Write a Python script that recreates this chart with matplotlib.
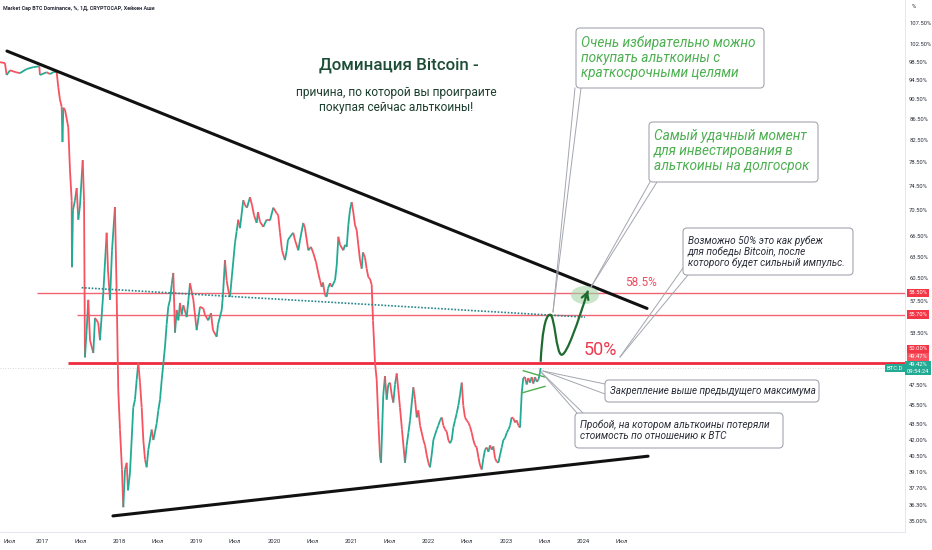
import matplotlib
matplotlib.use('Agg')
import matplotlib.pyplot as plt
import numpy as np
from matplotlib.transforms import Affine2D, blended_transform_factory
from matplotlib.patches import FancyBboxPatch, Ellipse, PathPatch
from matplotlib.lines import Line2D
from matplotlib.path import Path
from matplotlib.collections import LineCollection
from matplotlib.ticker import FixedLocator, NullLocator, FuncFormatter

plt.rcParams['font.family'] = ['Roboto', 'DejaVu Sans']

# BTC dominance (decimal year, %)
dates = [
    2016.457, 2016.521, 2016.543, 2016.586, 2016.664, 2016.715, 2016.802, 2016.887, 2016.965, 2016.974,
    2017.061, 2017.103, 2017.146, 2017.190, 2017.211, 2017.233, 2017.255, 2017.265, 2017.276, 2017.298,
    2017.340, 2017.362, 2017.384, 2017.388, 2017.401, 2017.427, 2017.449, 2017.470, 2017.492, 2017.527,
    2017.544, 2017.556, 2017.578, 2017.599, 2017.621, 2017.664, 2017.686, 2017.728, 2017.750, 2017.793,
    2017.837, 2017.854, 2017.880, 2017.906, 2017.944, 2017.966, 2017.987, 2018.009, 2018.035, 2018.052,
    2018.074, 2018.096, 2018.113, 2018.138, 2018.160, 2018.181, 2018.203, 2018.225, 2018.246, 2018.268,
    2018.290, 2018.311, 2018.333, 2018.354, 2018.376, 2018.397, 2018.419, 2018.441, 2018.484, 2018.505,
    2018.527, 2018.549, 2018.569, 2018.591, 2018.613, 2018.634, 2018.656, 2018.678, 2018.699, 2018.721,
    2018.743, 2018.764, 2018.785, 2018.807, 2018.829, 2018.872, 2018.894, 2018.915, 2018.958, 2019.001,
    2019.044, 2019.087, 2019.108, 2019.151, 2019.186, 2019.212, 2019.260, 2019.277, 2019.325, 2019.341,
    2019.367, 2019.389, 2019.410, 2019.432, 2019.458, 2019.497, 2019.518, 2019.539, 2019.561, 2019.604,
    2019.626, 2019.652, 2019.691, 2019.717, 2019.743, 2019.777, 2019.794, 2019.820, 2019.863, 2019.906,
    2019.950, 2019.992, 2020.036, 2020.056, 2020.079, 2020.105, 2020.143, 2020.166, 2020.182, 2020.208,
    2020.251, 2020.273, 2020.316, 2020.338, 2020.380, 2020.402, 2020.445, 2020.480, 2020.510, 2020.545,
    2020.574, 2020.596, 2020.618, 2020.635, 2020.661, 2020.683, 2020.700, 2020.726, 2020.748, 2020.791,
    2020.813, 2020.834, 2020.856, 2020.898, 2020.920, 2020.942, 2020.963, 2020.984, 2021.006, 2021.027,
    2021.049, 2021.071, 2021.092, 2021.114, 2021.136, 2021.152, 2021.178, 2021.200, 2021.222, 2021.243,
    2021.265, 2021.282, 2021.308, 2021.330, 2021.351, 2021.373, 2021.386, 2021.415, 2021.437, 2021.459,
    2021.480, 2021.502, 2021.524, 2021.545, 2021.567, 2021.589, 2021.610, 2021.631, 2021.657, 2021.696,
    2021.718, 2021.740, 2021.761, 2021.804, 2021.826, 2021.848, 2021.869, 2021.891, 2021.934, 2021.955,
    2021.977, 2021.999, 2022.019, 2022.041, 2022.063, 2022.106, 2022.127, 2022.149, 2022.171, 2022.192,
    2022.214, 2022.236, 2022.257, 2022.278, 2022.300, 2022.321, 2022.343, 2022.365, 2022.386, 2022.408,
    2022.430, 2022.450, 2022.472, 2022.494, 2022.515, 2022.537, 2022.559, 2022.580, 2022.602, 2022.624,
    2022.645, 2022.666, 2022.688, 2022.710, 2022.731, 2022.753, 2022.775, 2022.796, 2022.818, 2022.839,
    2022.861, 2022.883, 2022.904, 2022.925, 2022.947, 2022.968, 2022.990, 2023.012, 2023.034, 2023.055,
    2023.076, 2023.098, 2023.119, 2023.141, 2023.163, 2023.184, 2023.206, 2023.226, 2023.248, 2023.270,
    2023.291, 2023.313, 2023.335, 2023.356, 2023.378, 2023.400, 2023.421, 2023.442, 2023.451,
]
dominance = [
    98.4, 98.2, 95.6, 96.6, 96.2, 96.0, 96.9, 97.3, 97.5, 95.6,
    96.2, 95.8, 96.2, 96.3, 93.0, 90.4, 89.0, 82.2, 88.8, 88.4,
    85.0, 77.2, 72.1, 62.0, 70.5, 72.1, 74.1, 69.0, 71.3, 78.9,
    72.1, 50.6, 53.8, 57.6, 52.6, 51.1, 55.3, 54.7, 52.6, 58.5,
    67.0, 61.6, 57.6, 64.4, 71.0, 58.5, 47.0, 43.0, 39.3, 36.1,
    39.3, 39.9, 37.5, 39.0, 42.0, 45.2, 46.0, 48.1, 50.0, 47.8,
    45.2, 42.0, 40.2, 39.5, 41.1, 42.0, 43.0, 42.0, 43.6, 44.9,
    46.0, 48.1, 49.8, 51.8, 54.5, 56.7, 57.6, 59.6, 61.2, 53.5,
    56.3, 55.0, 57.2, 55.7, 56.9, 55.4, 57.6, 59.8, 57.6, 53.8,
    56.7, 56.5, 55.7, 55.0, 55.9, 53.8, 53.0, 54.5, 56.3, 58.2,
    63.0, 60.2, 58.9, 58.0, 60.9, 65.5, 67.2, 69.0, 67.7, 72.1,
    71.3, 70.9, 72.6, 71.3, 69.7, 68.5, 70.2, 68.7, 67.9, 69.0,
    68.9, 70.9, 70.0, 69.7, 67.0, 64.4, 63.0, 64.4, 65.9, 66.4,
    67.0, 65.9, 64.4, 65.9, 68.5, 67.7, 64.4, 64.9, 64.0, 62.7,
    61.2, 60.2, 59.3, 59.9, 58.2, 58.0, 59.1, 59.8, 59.3, 60.2,
    62.3, 66.4, 65.2, 64.4, 65.2, 64.9, 68.2, 70.5, 71.8, 70.2,
    68.2, 67.4, 65.2, 63.0, 61.8, 64.1, 63.4, 61.8, 60.6, 60.4,
    59.6, 55.0, 50.0, 48.1, 43.9, 40.4, 39.9, 46.5, 48.5, 46.0,
    47.6, 47.8, 46.5, 45.7, 47.6, 48.8, 47.0, 45.2, 43.0, 39.9,
    41.5, 42.7, 43.9, 47.3, 46.0, 44.2, 44.9, 43.4, 42.0, 41.5,
    40.6, 39.9, 39.5, 40.6, 42.0, 43.0, 43.4, 43.9, 44.2, 43.4,
    43.0, 42.8, 42.0, 41.7, 42.0, 43.2, 43.9, 44.6, 45.4, 46.5,
    47.8, 45.4, 44.2, 43.9, 43.7, 43.3, 42.7, 42.0, 41.5, 41.3,
    40.4, 39.7, 39.3, 40.3, 41.1, 41.3, 40.9, 41.5, 41.1, 41.4,
    40.3, 40.0, 39.9, 40.6, 41.3, 42.0, 42.2, 42.7, 43.0, 43.4,
    44.2, 44.1, 43.7, 43.9, 43.4, 43.2, 46.7, 48.3, 48.4, 47.6,
    48.3, 47.8, 48.4, 47.7, 48.4, 47.9, 48.1, 48.9, 49.4,
]
last_price = 49.42

# horizontal levels drawn on the chart
levels = [58.5, 55.7, 50.0]
level_start = [2016.93, 2017.45, 2017.34]

# trend lines (year, %)
upper_trend_x = [2016.547, 2024.827]
upper_trend_y = [100.9, 56.5]
lower_trend_x = [2017.918, 2024.840]
lower_trend_y = [35.4, 40.5]
dotted_x = [2017.514, 2024.025]
dotted_y = [59.2, 55.4]
pennant_top_x = [2023.226, 2023.507]
pennant_top_y = [49.1, 48.4]
pennant_bot_x = [2023.206, 2023.507]
pennant_bot_y = [46.7, 47.4]

# projected path (bezier anchors / controls)
proj_x = [2023.451, 2023.468, 2023.507, 2023.572, 2023.636, 2023.649, 2023.723, 2023.791, 2023.934, 2024.063]
proj_y = [50.1, 53.2, 55.7, 55.7, 55.7, 50.9, 50.9, 50.9, 54.8, 58.8]

price_ticks = [107.5, 102.5, 98.5, 94.5, 90.5, 86.5, 82.5, 78.5, 74.5, 70.5, 66.5, 63.5, 60.5,
               57.5, 53.5, 47.5, 45.5, 43.5, 42.0, 40.5, 39.1, 37.7, 36.3, 35.0]
time_ticks = [2016.5, 2017, 2017.5, 2018, 2018.5, 2019, 2019.5, 2020, 2020.5,
              2021, 2021.5, 2022, 2022.5, 2023, 2023.5, 2024, 2024.5]
time_labels = ['Июл', '2017', 'Июл', '2018', 'Июл', '2019', 'Июл', '2020', 'Июл',
               '2021', 'Июл', '2022', 'Июл', '2023', 'Июл', '2024', 'Июл']

GREEN = '#22ab94'
RED = '#f7525f'
W, H = 932, 550

fig = plt.figure(figsize=(W / 100, H / 100), dpi=100)
ax = fig.add_axes([0, 18 / H, 905 / W, 532 / H])
pix = Affine2D().scale(1 / W, -1 / H).translate(0, 1) + fig.transFigure
ax.set_yscale('log')

# heikin-ashi look: thin strokes from previous close to close, coloured by direction
pts = np.column_stack([dates, dominance])
segs = np.stack([pts[:-1], pts[1:]], axis=1)
cols = np.where(np.diff(dominance) >= 0, GREEN, RED)
ax.add_collection(LineCollection(segs, colors=cols, linewidths=1.3, zorder=3, capstyle='butt'))

x_end = 2028.164
ax.hlines(levels[:2], level_start[:2], x_end, colors='#f26472', linewidths=1.0, zorder=2)
ax.hlines(levels[2], level_start[2], x_end, colors='#ee2a3e', linewidths=2.0, zorder=2)
ax.axhline(last_price, color='#c9ccd4', lw=0.6, ls=(0, (1, 2)), zorder=1)

ax.plot(upper_trend_x, upper_trend_y, color='#111111', lw=2.2, zorder=4, solid_capstyle='round')
ax.plot(lower_trend_x, lower_trend_y, color='#111111', lw=2.2, zorder=4, solid_capstyle='round')
ax.plot(dotted_x, dotted_y, color='#26868a', lw=1.2, ls=(0, (1, 1)), zorder=4)
ax.plot(pennant_top_x, pennant_top_y, color='#4caf50', lw=1.0, zorder=4)
ax.plot(pennant_bot_x, pennant_bot_y, color='#4caf50', lw=1.0, zorder=4)

ax.add_patch(Ellipse((585, 295), 28, 18, transform=pix, fc='#a5d6a7', ec='none', alpha=0.6, zorder=4))
codes = [Path.MOVETO] + [Path.CURVE4] * 9
ax.add_patch(PathPatch(Path(np.column_stack([proj_x, proj_y]), codes),
                       fc='none', ec='#1e6b30', lw=1.6, zorder=5))
ax.annotate('', xy=(proj_x[-1], proj_y[-1]), xytext=(2024.031, 57.9),
            arrowprops=dict(arrowstyle='->,head_length=0.45,head_width=0.25', color='#1e6b30',
                            lw=1.6, shrinkA=0, shrinkB=0), zorder=5)

ax.set_xlim(2016.457, x_end)
ax.set_ylim(34.14, 113.2)

ax.yaxis.tick_right()
ax.yaxis.set_major_locator(FixedLocator(price_ticks))
ax.yaxis.set_minor_locator(NullLocator())
ax.yaxis.set_major_formatter(FuncFormatter(lambda val, p: f'{val:.2f}%'))
ax.tick_params(axis='y', length=0, pad=3, labelsize=4.2, labelcolor='#2a2e39')
ax.set_xticks(time_ticks, time_labels)
ax.xaxis.set_minor_locator(NullLocator())
ax.tick_params(axis='x', length=0, pad=5, labelsize=4.2, labelcolor='#2a2e39')
ax.get_xticklabels()[0].set_horizontalalignment('left')
for s in ['top', 'left']:
    ax.spines[s].set_visible(False)
for s in ['right', 'bottom']:
    ax.spines[s].set_color('#e0e3eb')
    ax.spines[s].set_linewidth(0.6)

# header and headline
fig.text(3, 8, 'Market Cap BTC Dominance, %, 1Д, CRYPTOCAP, Хейкен Аши', transform=pix,
         fontsize=3.9, weight='bold', color='#2a2e39', va='center')
fig.text(912, 7, '%', transform=pix, fontsize=4.2, color='#2a2e39', va='center')
fig.text(399, 65, 'Доминация Bitcoin -', transform=pix, fontsize=12.2, color='#1d4d35',
         ha='center', va='center', weight='medium')
fig.text(396, 100, 'причина, по которой вы проиграите\nпокупая сейчас альткоины!', transform=pix,
         fontsize=8.6, color='#1a3d2e', ha='center', va='center', linespacing=1.2)

fig.text(641, 283, '58.5%', transform=pix, fontsize=8.5, color='#ee4a5e', ha='center', va='center')
fig.text(600, 350, '50%', transform=pix, fontsize=13, color='#ee3a50', ha='center', va='center')


def callout(box, tip, roots, text, tx, ty, color, size):
    x0, y0, x1, y1 = box
    for r in roots:
        fig.add_artist(Line2D([r[0], tip[0]], [r[1], tip[1]], transform=pix, color='#a3a6af',
                              lw=0.7, zorder=1))
    fig.add_artist(FancyBboxPatch((x0, y0), x1 - x0, y1 - y0, boxstyle='round,pad=0,rounding_size=4',
                                  transform=pix, fc='white', ec='#a3a6af', lw=0.8, zorder=1.1))
    fig.text(tx, ty, text, transform=pix, fontsize=size, color=color, style='italic',
             ha='left', va='center', linespacing=1.1, zorder=3)


callout((576, 28, 764, 88), (553, 312), [(575, 88), (581, 88)],
        'Очень избирательно можно\nпокупать альткоины с\nкраткосрочными целями',
        581, 58, '#4caf50', 9.8)
callout((649, 122, 818, 182), (591, 287), [(650, 182), (657, 182)],
        'Самый удачный момент\nдля инвестирования в\nальткоины на долгосрок',
        654, 151, '#4caf50', 9.8)
callout((683, 228, 853, 275), (620, 357), [(683, 268), (688, 275)],
        'Возможно 50% это как рубеж\nдля победы Bitcoin, после\nкоторого будет сильный импульс.',
        688, 252, '#2a2e39', 7.2)
callout((605, 380, 819, 402), (543, 371), [(605, 384), (605, 394)],
        'Закрепление выше предыдущего максимума', 610, 391, '#2a2e39', 7.1)
callout((575, 413, 783, 448), (541, 372), [(577, 413), (583, 413)],
        'Пробой, на котором альткоины потеряли\nстоимость по отношению к BTC',
        580, 430, '#2a2e39', 7.2)

# price scale badges
lvl_tr = blended_transform_factory(pix, ax.transData)
badge = dict(fontsize=4.2, color='white', ha='center', va='center')
for lv in levels[:2]:
    fig.text(918, lv, f'{lv:.2f}%', transform=lvl_tr,
             bbox=dict(boxstyle='square,pad=0.3', fc='#f23645', ec='none'), **badge)
fig.text(918, 349, '50.00%', transform=pix, bbox=dict(boxstyle='square,pad=0.3', fc='#f23645', ec='none'), **badge)
fig.text(918, 357, '49.47%', transform=pix, bbox=dict(boxstyle='square,pad=0.3', fc='#f7525f', ec='none'), **badge)
fig.text(918, 368, f'{last_price:.2f}%\n09:54:24', transform=pix, linespacing=1.3,
         bbox=dict(boxstyle='square,pad=0.3', fc=GREEN, ec='none'), **badge)
fig.text(895, 368, 'BTC.D', transform=pix, bbox=dict(boxstyle='square,pad=0.3', fc=GREEN, ec='none'), **badge)

fig.savefig('out.png', dpi=100)
